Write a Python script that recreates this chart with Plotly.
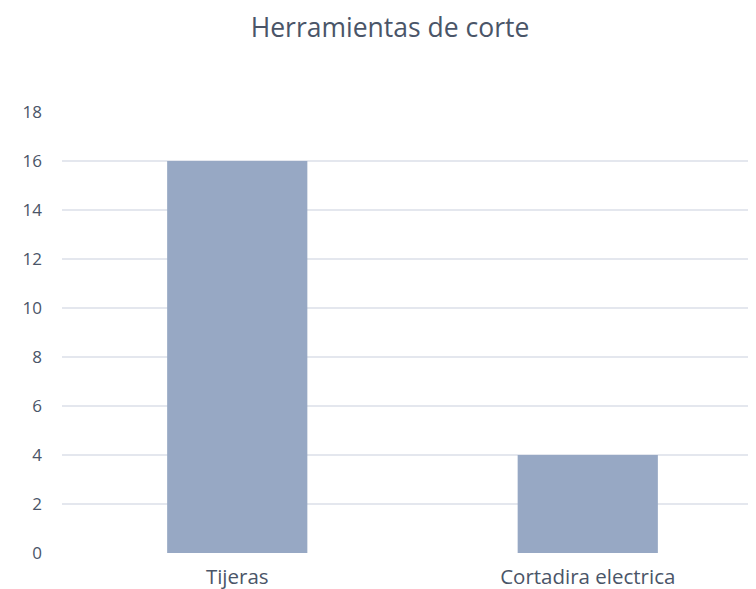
import plotly.graph_objects as go

categories = ["Tijeras", "Cortadira electrica"]
values = [16, 4]
y_ticks = [0, 2, 4, 6, 8, 10, 12, 14, 16, 18]

fig = go.Figure(go.Bar(
    x=categories, y=values, width=0.4,
    marker=dict(color="#97a8c4", line=dict(width=0)),
))

text_color = "#4a5568"
fig.update_layout(
    width=748, height=581,
    paper_bgcolor="white", plot_bgcolor="white",
    margin=dict(l=54, r=0, t=104, b=36),
    font=dict(family="Open Sans", size=20.5, color=text_color),
    title=dict(text="Herramientas de corte", x=382 / 748, xanchor="center",
               y=1 - 20 / 581, yanchor="middle", yref="container",
               font=dict(size=26.5, color="#4a5568")),
    showlegend=False,
    bargap=0.6,
)
fig.update_xaxes(range=[-0.5, 1.48], showgrid=False, zeroline=False,
                 showline=False, ticks="", ticklabelstandoff=9,
                 automargin=False)
fig.update_yaxes(range=[0, 18], tickvals=y_ticks, showgrid=True,
                 gridcolor="#e4e7ee", gridwidth=1.5, zeroline=False,
                 showline=False, ticks="", ticklabelstandoff=19,
                 tickfont=dict(size=17), automargin=False)

fig.write_html("out.html")
